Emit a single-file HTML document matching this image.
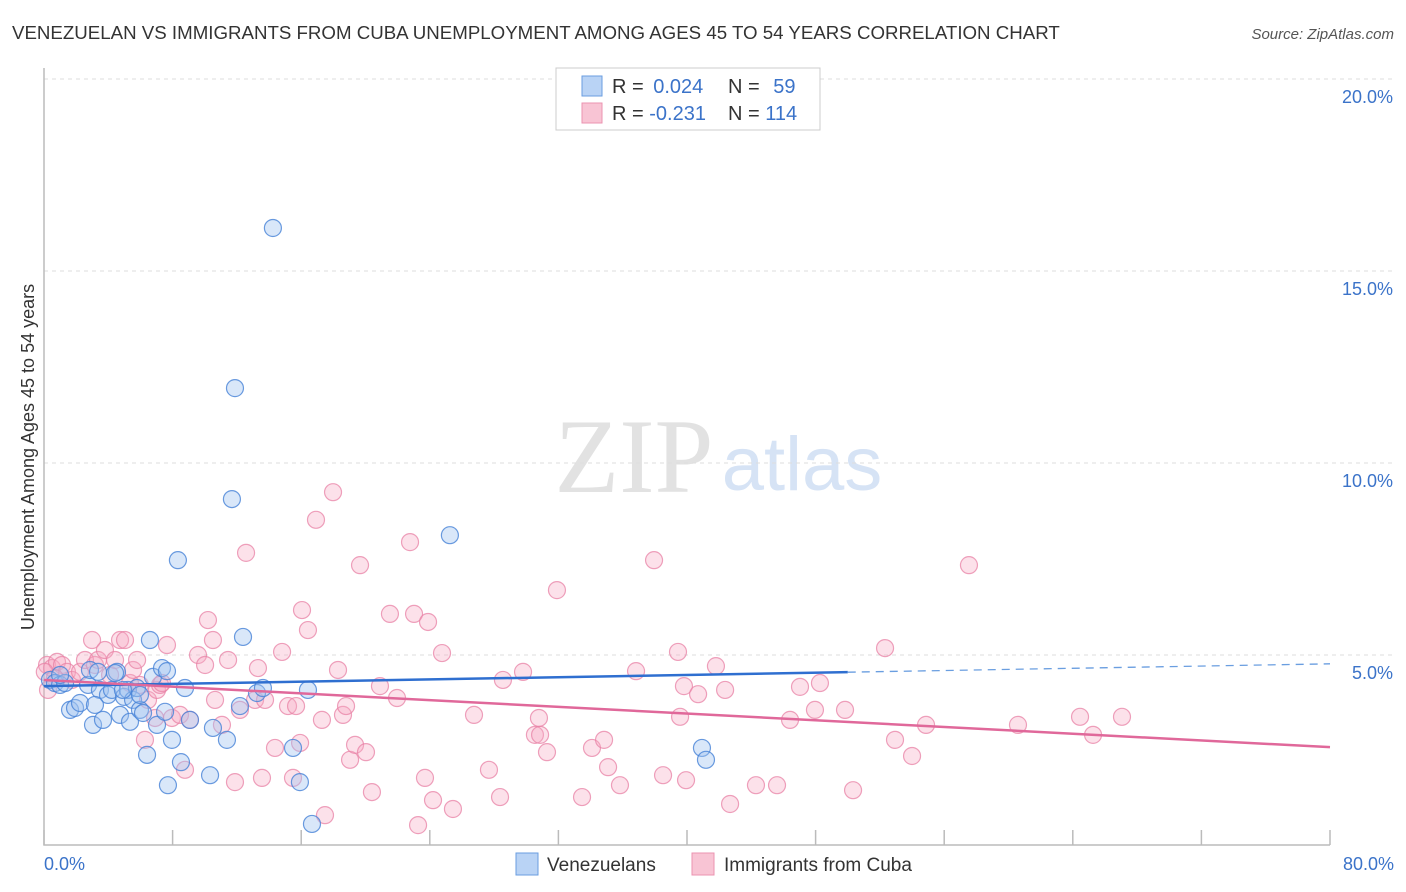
<!DOCTYPE html>
<html><head><meta charset="utf-8"><style>
body{margin:0;background:#fff;font-family:"Liberation Sans",sans-serif}
svg{display:block}
</style></head><body>
<svg id="chart" width="1406" height="892" xmlns="http://www.w3.org/2000/svg">
<text x="12" y="39" font-size="18.7" fill="#333">VENEZUELAN VS IMMIGRANTS FROM CUBA UNEMPLOYMENT AMONG AGES 45 TO 54 YEARS CORRELATION CHART</text>
<text x="1394" y="39" font-size="15" fill="#555" font-style="italic" text-anchor="end">Source: ZipAtlas.com</text>
<text x="634" y="492" font-size="106" fill="#e2e2e2" font-family="Liberation Serif,serif" text-anchor="middle">ZIP</text>
<text x="802" y="490" font-size="76" fill="#d6e3f5" text-anchor="middle">atlas</text>
<g id="grid"></g>
<g id="axes"></g>
<g id="pts"></g>
<g id="trend"></g>
<text transform="translate(34,457) rotate(-90)" font-size="18" fill="#333" text-anchor="middle">Unemployment Among Ages 45 to 54 years</text>
<g>
<rect x="556" y="68" width="264" height="62" fill="#fff" stroke="#ccc"/>
<rect x="582" y="76" width="20" height="20" fill="#b9d3f5" stroke="#6a9ee0"/>
<rect x="582" y="103" width="20" height="20" fill="#f8c4d4" stroke="#eb93b0"/>
<text x="612" y="93" font-size="20" fill="#333">R = <tspan fill="#3b73c9" dx="4">0.024</tspan></text>
<text x="728" y="93" font-size="20" fill="#333">N = <tspan fill="#3b73c9" dx="8">59</tspan></text>
<text x="612" y="120" font-size="20" fill="#333">R = <tspan fill="#3b73c9">-0.231</tspan></text>
<text x="728" y="120" font-size="20" fill="#333">N = <tspan fill="#3b73c9">114</tspan></text>
</g>
<g>
<rect x="516" y="853" width="22" height="22" fill="#b9d3f5" stroke="#6a9ee0"/>
<text x="547" y="871" font-size="19" fill="#333">Venezuelans</text>
<rect x="692" y="853" width="22" height="22" fill="#f8c4d4" stroke="#eb93b0"/>
<text x="724" y="871" font-size="19" fill="#333">Immigrants from Cuba</text>
</g>
</svg>
<script>
const yTicks=[5,10,15,20];
const yTickLabels=["5.0%","10.0%","15.0%","20.0%"];
const xTickVals=[0,8,16,24,32,40,48,56,64,72,80];
const blueX=[0.37,0.68,1.0,1.31,1.62,1.93,2.24,2.74,2.86,3.05,3.36,3.48,3.67,3.98,4.23,4.54,4.73,4.98,5.22,5.35,5.54,5.78,5.97,6.16,6.41,6.59,6.78,7.03,7.34,7.65,7.96,8.33,8.52,8.77,9.08,7.71,10.33,10.51,11.38,11.69,11.88,12.19,12.38,13.25,13.62,14.24,15.49,15.92,16.42,16.67,25.25,40.93,41.18,1.0,4.42,7.53,3.17,5.97,4.91];
const blueY=[4.35,4.27,4.22,4.27,3.57,3.62,3.75,4.22,4.61,3.18,4.56,4.09,3.31,3.96,4.09,4.56,3.44,3.91,4.09,3.26,3.83,4.14,3.57,3.49,2.40,5.39,4.43,3.18,4.66,4.58,2.79,7.47,2.21,4.14,3.31,1.61,1.87,3.10,2.79,9.06,11.95,3.67,5.47,4.01,4.14,16.12,2.58,1.69,4.09,0.60,8.12,2.58,2.27,4.48,4.53,3.52,3.70,3.96,4.09];
const pinkX=[0.19,0.50,0.81,1.12,1.43,1.74,2.24,2.55,2.99,3.17,3.36,3.79,4.11,4.42,4.73,5.04,5.35,5.54,5.79,5.97,6.28,6.47,6.91,7.03,7.22,7.34,7.65,7.96,8.46,8.77,9.08,9.58,10.02,10.20,10.51,10.64,11.07,11.45,11.88,12.19,12.57,13.13,13.31,13.56,13.75,14.37,14.81,15.18,15.49,15.68,15.93,16.05,16.42,16.92,17.29,17.48,17.98,18.29,18.60,18.79,19.04,19.35,19.66,20.03,20.40,20.90,21.52,21.96,22.77,23.02,23.70,23.89,24.20,24.76,25.44,26.75,27.68,28.37,28.55,29.80,30.54,30.79,30.86,31.29,31.91,33.47,34.09,34.84,35.09,35.83,36.83,37.95,38.51,39.57,39.44,39.81,39.94,40.69,41.80,42.37,42.68,44.29,45.60,46.41,47.03,47.96,48.27,49.83,50.33,52.32,52.94,54.00,54.87,57.54,60.59,64.45,65.26,67.06,23.27,0.25,0.05,0.68];
const pinkY=[4.74,4.66,4.82,4.74,4.56,4.35,4.56,4.87,5.39,4.74,4.87,5.13,4.48,4.87,5.39,5.39,4.27,4.61,4.87,4.22,2.79,3.83,3.36,4.09,4.22,4.27,5.26,3.36,3.44,2.01,3.31,5.00,4.74,5.91,5.39,3.83,3.18,4.87,1.69,3.57,7.66,3.83,4.66,1.80,3.83,2.58,5.08,3.67,1.80,3.67,2.71,6.17,5.65,8.52,3.31,0.83,9.24,4.61,3.44,3.67,2.27,2.66,7.34,2.47,1.43,4.19,6.07,3.88,7.94,6.07,1.80,5.86,1.22,5.05,0.99,3.44,2.01,1.30,4.35,4.56,2.92,3.36,2.92,2.47,6.69,1.30,2.58,2.79,2.08,1.61,4.58,7.47,1.87,3.39,5.08,4.19,1.74,3.98,4.71,4.09,1.12,1.61,1.61,3.31,4.17,3.57,4.27,3.57,1.48,5.18,2.79,2.37,3.18,7.34,3.18,3.39,2.92,3.39,0.57,4.09,4.56,4.40];
const blueTrend=[4.19,4.77];
const pinkTrend=[4.35,2.60];
const NS="http://www.w3.org/2000/svg";
const X=v=>44+v/80*1286, Y=v=>847-v/5*192;
function mk(tag,attrs,parent){const e=document.createElementNS(NS,tag);for(const k in attrs)e.setAttribute(k,attrs[k]);document.getElementById(parent).appendChild(e);return e;}
yTicks.forEach((t,i)=>{
 const g=mk('line',{x1:44,x2:1394,y1:Y(t),y2:Y(t),stroke:'#ddd','stroke-dasharray':'4,4'},'grid');
 
 
 const l=mk('text',{x:1393,y:Y(t)+24,'font-size':18,fill:'#3b73c9','text-anchor':'end'},'grid');
 l.textContent=yTickLabels[i];
 
 
});
const ax=mk('path',{d:'M44 68 V845 H1330',stroke:'#bbb',fill:'none','stroke-width':1.5},'axes');


xTickVals.forEach(v=>{
 const t=mk('line',{x1:X(v),x2:X(v),y1:830,y2:845,stroke:'#bbb','stroke-width':1.5},'axes');
 
 
});
[[0,'0.0%','start',44],[80,'80.0%','end',1394]].forEach(a=>{
 const t=mk('text',{x:a[3],y:870,'font-size':18,fill:'#3b73c9','text-anchor':a[2]},'axes');
 t.textContent=a[1];
 
 
});
pinkX.forEach((x,i)=>{
 const c=mk('circle',{cx:X(x),cy:Y(pinkY[i]),r:8.5,fill:'rgba(245,170,195,0.35)',stroke:'rgba(232,130,165,0.75)','stroke-width':1.2},'pts');
 
 
});
blueX.forEach((x,i)=>{
 const c=mk('circle',{cx:X(x),cy:Y(blueY[i]),r:8.5,fill:'rgba(160,195,240,0.4)',stroke:'rgba(70,130,215,0.8)','stroke-width':1.2},'pts');
 
 
});
const bAt=v=>blueTrend[0]+(blueTrend[1]-blueTrend[0])*v/80;
const pAt=v=>pinkTrend[0]+(pinkTrend[1]-pinkTrend[0])*v/80;
let l1=mk('line',{x1:X(0),y1:Y(bAt(0)),x2:X(50),y2:Y(bAt(50)),stroke:'#2f6fd0','stroke-width':2.5},'trend');


let l2=mk('line',{x1:X(50),y1:Y(bAt(50)),x2:X(80),y2:Y(bAt(80)),stroke:'#6a9ee0','stroke-width':1.3,'stroke-dasharray':'8,6'},'trend');


let l3=mk('line',{x1:X(0),y1:Y(pAt(0)),x2:X(80),y2:Y(pAt(80)),stroke:'#e0689a','stroke-width':2.5},'trend');


</script>
</body></html>
